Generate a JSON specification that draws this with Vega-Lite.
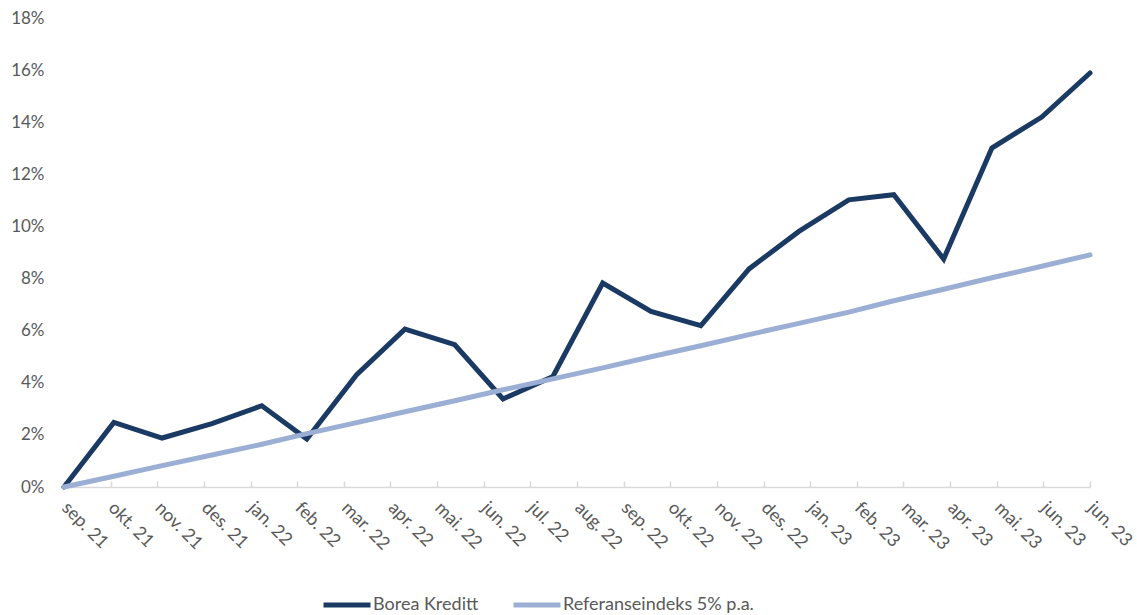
{
  "$schema": "https://vega.github.io/schema/vega-lite/v6.json",
  "autosize": "none",
  "width": 1026,
  "height": 469,
  "padding": {"left": 64, "top": 18, "right": 47, "bottom": 128},
  "background": "white",
  "config": {
    "view": {"stroke": null},
    "font": "Lato",
    "axis": {"labelFont": "Lato", "labelFontSize": 17, "labelColor": "#595959", "grid": false, "title": null}
  },
  "data": {
    "values": [
      {"date": "2021-09-30T00:00:00", "series": "Borea Kreditt", "value": 0.0},
      {"date": "2021-10-31T00:00:00", "series": "Borea Kreditt", "value": 0.0248},
      {"date": "2021-11-30T00:00:00", "series": "Borea Kreditt", "value": 0.0188},
      {"date": "2021-12-31T00:00:00", "series": "Borea Kreditt", "value": 0.0243},
      {"date": "2022-01-31T00:00:00", "series": "Borea Kreditt", "value": 0.0312},
      {"date": "2022-02-28T00:00:00", "series": "Borea Kreditt", "value": 0.0184},
      {"date": "2022-03-31T00:00:00", "series": "Borea Kreditt", "value": 0.0431},
      {"date": "2022-04-30T00:00:00", "series": "Borea Kreditt", "value": 0.0606},
      {"date": "2022-05-31T00:00:00", "series": "Borea Kreditt", "value": 0.0546},
      {"date": "2022-06-30T00:00:00", "series": "Borea Kreditt", "value": 0.0338},
      {"date": "2022-07-31T00:00:00", "series": "Borea Kreditt", "value": 0.0424},
      {"date": "2022-08-31T00:00:00", "series": "Borea Kreditt", "value": 0.0783},
      {"date": "2022-09-30T00:00:00", "series": "Borea Kreditt", "value": 0.0674},
      {"date": "2022-10-31T00:00:00", "series": "Borea Kreditt", "value": 0.0619},
      {"date": "2022-11-30T00:00:00", "series": "Borea Kreditt", "value": 0.0837},
      {"date": "2022-12-31T00:00:00", "series": "Borea Kreditt", "value": 0.0981},
      {"date": "2023-01-31T00:00:00", "series": "Borea Kreditt", "value": 0.1102},
      {"date": "2023-02-28T00:00:00", "series": "Borea Kreditt", "value": 0.1122},
      {"date": "2023-03-31T00:00:00", "series": "Borea Kreditt", "value": 0.0875},
      {"date": "2023-04-30T00:00:00", "series": "Borea Kreditt", "value": 0.1301},
      {"date": "2023-05-31T00:00:00", "series": "Borea Kreditt", "value": 0.1420},
      {"date": "2023-06-30T00:00:00", "series": "Borea Kreditt", "value": 0.1589},
      {"date": "2021-09-30T00:00:00", "series": "Referanseindeks 5% p.a.", "value": 0.0},
      {"date": "2021-10-31T00:00:00", "series": "Referanseindeks 5% p.a.", "value": 0.0041},
      {"date": "2021-11-30T00:00:00", "series": "Referanseindeks 5% p.a.", "value": 0.0082},
      {"date": "2021-12-31T00:00:00", "series": "Referanseindeks 5% p.a.", "value": 0.0123},
      {"date": "2022-01-31T00:00:00", "series": "Referanseindeks 5% p.a.", "value": 0.0164},
      {"date": "2022-02-28T00:00:00", "series": "Referanseindeks 5% p.a.", "value": 0.0205},
      {"date": "2022-03-31T00:00:00", "series": "Referanseindeks 5% p.a.", "value": 0.0247},
      {"date": "2022-04-30T00:00:00", "series": "Referanseindeks 5% p.a.", "value": 0.0289},
      {"date": "2022-05-31T00:00:00", "series": "Referanseindeks 5% p.a.", "value": 0.0331},
      {"date": "2022-06-30T00:00:00", "series": "Referanseindeks 5% p.a.", "value": 0.0373},
      {"date": "2022-07-31T00:00:00", "series": "Referanseindeks 5% p.a.", "value": 0.0415},
      {"date": "2022-08-31T00:00:00", "series": "Referanseindeks 5% p.a.", "value": 0.0457},
      {"date": "2022-09-30T00:00:00", "series": "Referanseindeks 5% p.a.", "value": 0.0500},
      {"date": "2022-10-31T00:00:00", "series": "Referanseindeks 5% p.a.", "value": 0.0542},
      {"date": "2022-11-30T00:00:00", "series": "Referanseindeks 5% p.a.", "value": 0.0585},
      {"date": "2022-12-31T00:00:00", "series": "Referanseindeks 5% p.a.", "value": 0.0628},
      {"date": "2023-01-31T00:00:00", "series": "Referanseindeks 5% p.a.", "value": 0.0671},
      {"date": "2023-02-28T00:00:00", "series": "Referanseindeks 5% p.a.", "value": 0.0715},
      {"date": "2023-03-31T00:00:00", "series": "Referanseindeks 5% p.a.", "value": 0.0759},
      {"date": "2023-04-30T00:00:00", "series": "Referanseindeks 5% p.a.", "value": 0.0803},
      {"date": "2023-05-31T00:00:00", "series": "Referanseindeks 5% p.a.", "value": 0.0847},
      {"date": "2023-06-30T00:00:00", "series": "Referanseindeks 5% p.a.", "value": 0.0891}
    ]
  },
  "mark": {"type": "line", "strokeWidth": 5, "strokeCap": "round"},
  "encoding": {
    "x": {
      "field": "date",
      "type": "temporal",
      "scale": {"domain": [{"year": 2021, "month": 9, "date": 30}, {"year": 2023, "month": 6, "date": 30}]},
      "axis": {
        "values": [
          {"year": 2021, "month": 9, "date": 30},
          {"year": 2021, "month": 10, "date": 29},
          {"year": 2021, "month": 11, "date": 27},
          {"year": 2021, "month": 12, "date": 26},
          {"year": 2022, "month": 1, "date": 24},
          {"year": 2022, "month": 2, "date": 22},
          {"year": 2022, "month": 3, "date": 23},
          {"year": 2022, "month": 4, "date": 21},
          {"year": 2022, "month": 5, "date": 20},
          {"year": 2022, "month": 6, "date": 18},
          {"year": 2022, "month": 7, "date": 17},
          {"year": 2022, "month": 8, "date": 15},
          {"year": 2022, "month": 9, "date": 13},
          {"year": 2022, "month": 10, "date": 12},
          {"year": 2022, "month": 11, "date": 10},
          {"year": 2022, "month": 12, "date": 9},
          {"year": 2023, "month": 1, "date": 7},
          {"year": 2023, "month": 2, "date": 5},
          {"year": 2023, "month": 3, "date": 6},
          {"year": 2023, "month": 4, "date": 4},
          {"year": 2023, "month": 5, "date": 3},
          {"year": 2023, "month": 6, "date": 1},
          {"year": 2023, "month": 6, "date": 30}
        ],
        "labelExpr": "['jan.','feb.','mar.','apr.','mai.','jun.','jul.','aug.','sep.','okt.','nov.','des.'][month(datum.value)] + ' ' + timeFormat(datum.value, '%y')",
        "labelAngle": 45,
        "labelAlign": "left",
        "labelBaseline": "middle",
        "labelPadding": 24,
        "labelFontSize": 18,
        "labelOverlap": false,
        "labelBound": false,
        "labelFlush": false,
        "domainColor": "#D9D9D9",
        "domainWidth": 1.5,
        "tickColor": "#D9D9D9",
        "tickWidth": 1.5,
        "tickSize": -6
      }
    },
    "y": {
      "field": "value",
      "type": "quantitative",
      "scale": {"domain": [0, 0.18], "nice": false},
      "axis": {
        "values": [0, 0.02, 0.04, 0.06, 0.08, 0.1, 0.12, 0.14, 0.16, 0.18],
        "format": ".0%",
        "domain": false,
        "ticks": false,
        "labelPadding": 20
      }
    },
    "color": {
      "field": "series",
      "type": "nominal",
      "scale": {"domain": ["Borea Kreditt", "Referanseindeks 5% p.a."], "range": ["#1B3A63", "#9BAFD5"]},
      "legend": {
        "title": null,
        "orient": "none",
        "direction": "horizontal",
        "legendX": 257,
        "legendY": 561,
        "padding": 0,
        "symbolType": "stroke",
        "symbolSize": 2209,
        "symbolStrokeWidth": 5,
        "labelFont": "Lato",
        "labelFontSize": 18,
        "labelLimit": 400,
        "labelColor": "#595959",
        "labelOffset": 0,
        "columnPadding": 24
      }
    }
  }
}
